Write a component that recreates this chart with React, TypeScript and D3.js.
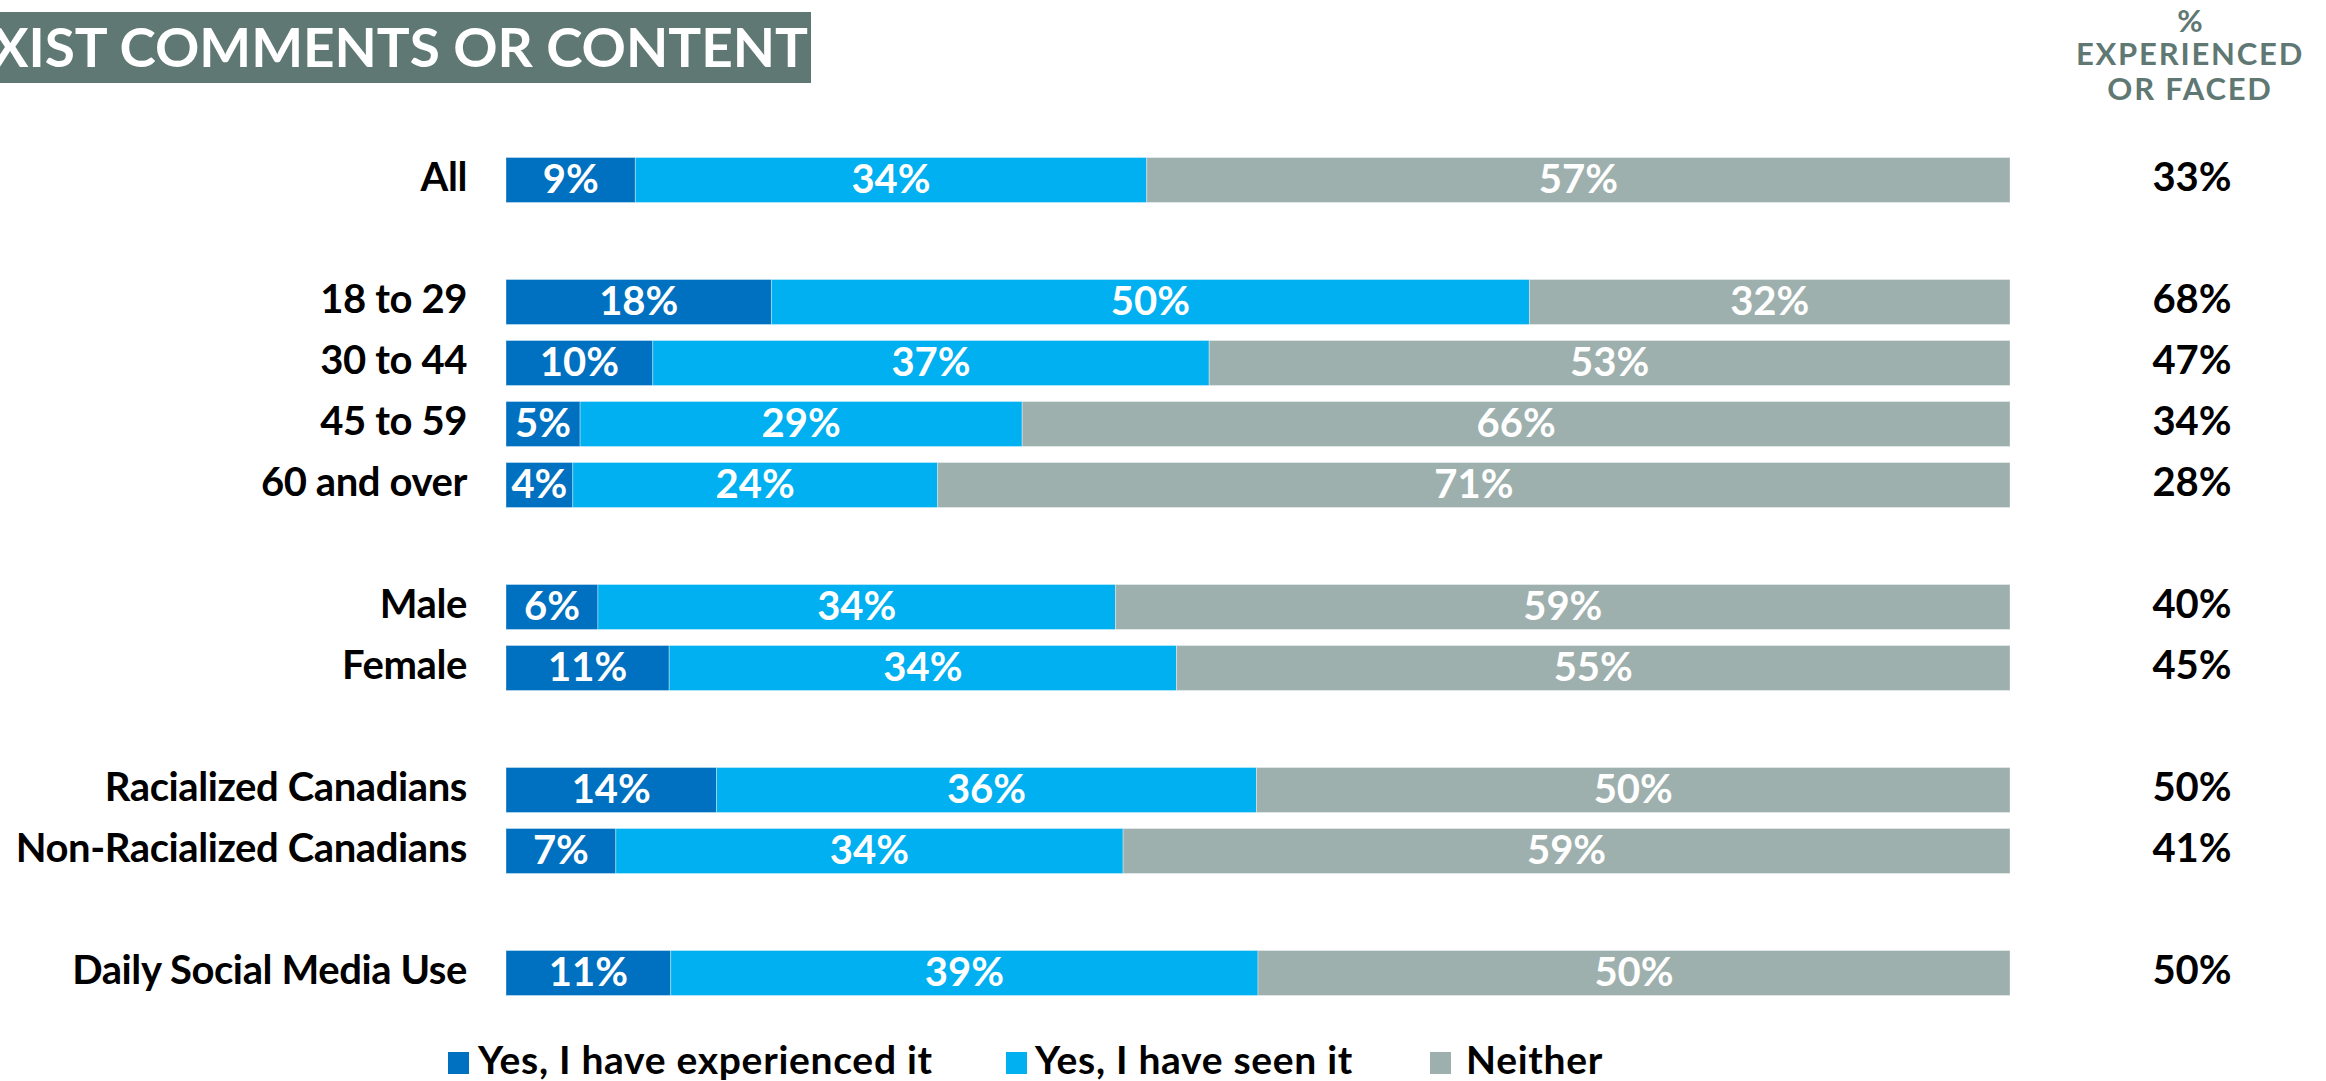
import React from "react";
import * as d3 from "d3";

const categories = [
  "All",
  "18 to 29",
  "30 to 44",
  "45 to 59",
  "60 and over",
  "Male",
  "Female",
  "Racialized Canadians",
  "Non-Racialized Canadians",
  "Daily Social Media Use",
];
const experienced = [8.6, 17.65, 9.76, 4.93, 4.44, 6.11, 10.85, 14.0, 7.3, 10.95];
const seen = [34.0, 50.4, 37.0, 29.4, 24.26, 34.42, 33.73, 35.9, 33.73, 39.05];
const neither = [57.4, 31.95, 53.25, 65.7, 71.3, 59.47, 55.42, 50.1, 58.97, 50.0];
const experiencedOrFaced = [33, 68, 47, 34, 28, 40, 45, 50, 41, 50];
const seriesKeys = ["experienced", "seen", "neither"];
const seriesNames = ["Yes, I have experienced it", "Yes, I have seen it", "Neither"];
const groupEnds = ["All", "60 and over", "Female", "Non-Racialized Canadians"];
const titleText = "SEXIST COMMENTS OR CONTENT";
const headerLines = ["%", "EXPERIENCED", "OR FACED"];

const COLORS = ["#0070c0", "#00b0f0", "#9eb0ad"];
const HEADER_COLOR = "#5f7873";
const FONT = "Lato, 'Open Sans', sans-serif";
const fmt = d3.format(".0f");

export default function App() {
  const W = 2326;
  const H = 1081;

  // slots including blank gaps between groups
  const slots: string[] = [];
  categories.forEach((c) => {
    slots.push(c);
    if (groupEnds.includes(c) && c !== categories[categories.length - 1]) slots.push("__gap_" + c);
  });

  const y = d3
    .scaleBand<string>()
    .domain(slots)
    .range([149.5, 149.5 + slots.length * 61])
    .paddingInner(16 / 61)
    .paddingOuter(8 / 61);

  const x = d3.scaleLinear().domain([0, 1]).range([506, 2010]);

  const rows = categories.map((c, i) => ({
    cat: c,
    experienced: experienced[i],
    seen: seen[i],
    neither: neither[i],
  }));
  const stack = d3.stack<any>().keys(seriesKeys).offset(d3.stackOffsetExpand);
  const series = stack(rows);
  const valueArrays = [experienced, seen, neither];

  const legendX = [448, 1006, 1430];
  const legendTextX = [478, 1035, 1466];

  return (
    <svg
      width={W}
      height={H}
      style={{ position: "absolute", left: 0, top: 0, background: "#fff" }}
      fontFamily={FONT}
    >
      {/* title banner */}
      <rect x={0} y={12} width={811} height={71} fill={HEADER_COLOR} />
      <text
        x={808}
        y={67}
        textAnchor="end"
        fill="#fff"
        fontSize={53}
        fontWeight={700}
        textLength={878}
        lengthAdjust="spacingAndGlyphs"
      >
        {titleText}
      </text>

      {/* right header */}
      {headerLines.map((t, i) => (
        <text
          key={t}
          x={2190}
          y={[32, 65, 100][i]}
          textAnchor="middle"
          fill={HEADER_COLOR}
          fontSize={31}
          fontWeight={700}
          letterSpacing={i === 0 ? 0 : 1.8}
        >
          {t}
        </text>
      ))}

      {/* bars */}
      {series.map((s, si) => (
        <g key={s.key}>
          {s.map((d, i) => {
            const yy = y(categories[i])!;
            const x0 = x(d[0]);
            const x1 = x(d[1]);
            return (
              <g key={i}>
                <rect
                  x={x0}
                  y={yy}
                  width={x1 - x0}
                  height={y.bandwidth()}
                  fill={COLORS[si]}
                  stroke="#ffffff"
                  strokeOpacity={0.35}
                  strokeWidth={1}
                />
                <text
                  x={(x0 + x1) / 2}
                  y={yy + y.bandwidth() / 2 + 13}
                  textAnchor="middle"
                  fill="#fff"
                  fontSize={40}
                  fontWeight={700}
                >
                  {fmt(valueArrays[si][i])}%
                </text>
              </g>
            );
          })}
        </g>
      ))}

      {/* category labels */}
      {categories.map((c) => (
        <text
          key={c}
          x={467}
          y={y(c)! + y.bandwidth() / 2 + 11}
          textAnchor="end"
          fill="#000"
          fontSize={40}
          fontWeight={700}
          letterSpacing={-0.4}
        >
          {c}
        </text>
      ))}

      {/* right column */}
      {categories.map((c, i) => (
        <text
          key={c}
          x={2192}
          y={y(c)! + y.bandwidth() / 2 + 11}
          textAnchor="middle"
          fill="#000"
          fontSize={40}
          fontWeight={700}
        >
          {experiencedOrFaced[i]}%
        </text>
      ))}

      {/* legend */}
      {seriesNames.map((n, i) => (
        <g key={n}>
          <rect x={legendX[i]} y={1052} width={21} height={22} fill={COLORS[i]} />
          <text
            x={legendTextX[i]}
            y={1074}
            fill="#000"
            fontSize={39}
            fontWeight={700}
            letterSpacing={0.7}
          >
            {n}
          </text>
        </g>
      ))}
    </svg>
  );
}
